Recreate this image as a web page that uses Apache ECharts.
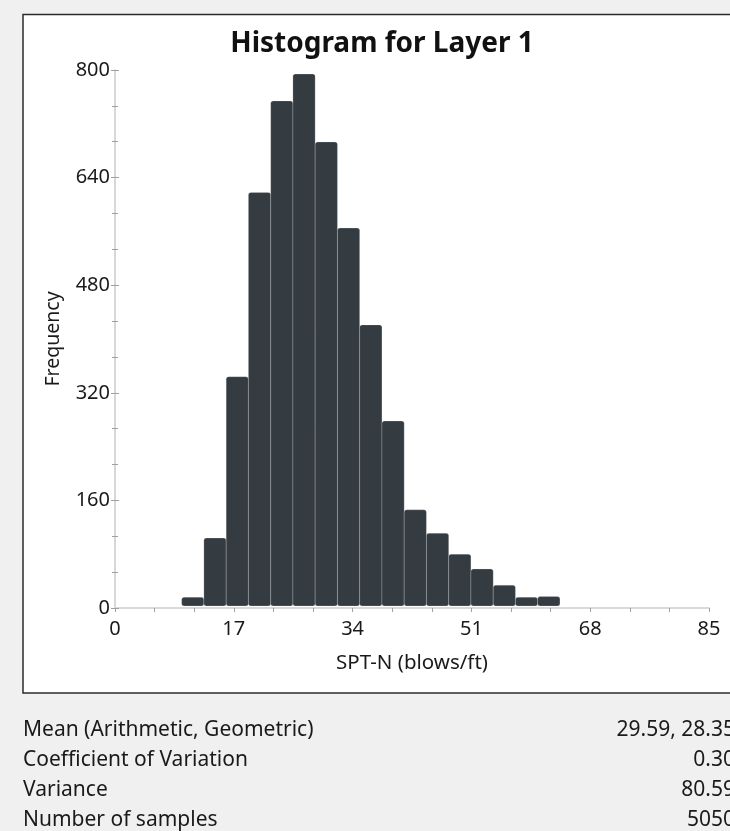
<!DOCTYPE html>
<html>
<head>
<meta charset="utf-8">
<script src="https://cdn.jsdelivr.net/npm/echarts@6/dist/echarts.min.js"></script>
<style>
  html, body { margin: 0; padding: 0; background: #f0f0f0; overflow: hidden; }
  #chart { width: 730px; height: 831px; }
</style>
</head>
<body>
<div id="chart"></div>
<script>
// Histogram bins: edges (blows/ft) and counts per bin
const binEdges = [9.54, 12.72, 15.91, 19.09, 22.28, 25.46, 28.64, 31.83, 35.01,
                  38.20, 41.38, 44.56, 47.75, 50.93, 54.12, 57.30, 60.48, 63.67];
const binCounts = [16, 104, 344, 618, 754, 794, 693, 565, 421,
                   278, 146, 111, 80, 58, 34, 16, 17];

// Axis ticks
const xTicks = [0, 17, 34, 51, 68, 85];
const yTicks = [0, 160, 320, 480, 640, 800];

// Summary statistics shown under the chart
const statLabels = ['Mean (Arithmetic, Geometric)', 'Coefficient of Variation', 'Variance', 'Number of samples'];
const statValues = ['29.59, 28.35', '0.30', '80.59', '5050'];

const FONT = 'Noto Sans';
const barData = binCounts.map((c, i) => [binEdges[i], binEdges[i + 1], c]);

const chart = echarts.init(document.getElementById('chart'), null, { renderer: 'canvas' });

const axisLineStyle = { color: '#d6d6d6', width: 1.5 };
const tickStyle = { color: '#a0a0a0', width: 1 };

const statGraphics = [];
statLabels.forEach((t, i) => {
  statGraphics.push({
    type: 'text', left: 23, top: 720 + i * 29.7,
    style: { text: t, font: '21px "' + FONT + '"', fill: '#1a1a1a' }
  });
  statGraphics.push({
    type: 'text', x: 735, y: 720 + i * 29.7,
    style: { text: statValues[i], font: '21px "' + FONT + '"', fill: '#1a1a1a', align: 'right' }
  });
});

chart.setOption({
  backgroundColor: '#f0f0f0',
  animation: false,
  title: {
    text: 'Histogram for Layer 1',
    left: 377, top: 25, textAlign: 'center',
    textStyle: { fontFamily: FONT, fontWeight: 'bold', fontSize: 28, color: '#111' }
  },
  graphic: [
    {
      type: 'rect', z: -10,
      shape: { x: 23, y: 14.5, width: 740, height: 678.5 },
      style: { fill: '#ffffff', stroke: '#2b2b2b', lineWidth: 1.5 }
    }
  ].concat(statGraphics),
  grid: { left: 115, right: 21, top: 70, bottom: 223 },
  xAxis: [
    {
      type: 'value', min: 0, max: 85, interval: 17, position: 'bottom',
      name: 'SPT-N (blows/ft)', nameLocation: 'middle', nameGap: 45,
      nameTextStyle: { fontFamily: FONT, fontSize: 20.5, color: '#1a1a1a' },
      axisLine: { show: true, lineStyle: axisLineStyle },
      axisTick: { show: true, length: 4, lineStyle: tickStyle },
      minorTick: { show: true, splitNumber: 3, length: 4, lineStyle: tickStyle },
      splitLine: { show: false },
      axisLabel: {
        fontFamily: FONT, fontSize: 20, color: '#1a1a1a', margin: 11,
        customValues: xTicks
      }
    },
    {
      type: 'value', min: 0, max: 85, interval: 17, position: 'top',
      axisLine: { show: true, lineStyle: axisLineStyle },
      axisTick: { show: true, inside: true, length: 4, lineStyle: tickStyle },
      minorTick: { show: true, splitNumber: 3, length: 3, lineStyle: tickStyle },
      splitLine: { show: false },
      axisLabel: { show: false }
    }
  ],
  yAxis: [
    {
      type: 'value', min: 0, max: 800, interval: 160, position: 'left',
      name: 'Frequency', nameLocation: 'middle', nameGap: 52,
      nameTextStyle: { fontFamily: FONT, fontSize: 19.5, color: '#1a1a1a' },
      axisLine: { show: true, lineStyle: axisLineStyle },
      axisTick: { show: true, inside: true, length: 4, lineStyle: tickStyle },
      minorTick: { show: true, splitNumber: 3, length: 3, lineStyle: tickStyle },
      splitLine: { show: false },
      axisLabel: {
        fontFamily: FONT, fontSize: 20, color: '#1a1a1a', margin: 5,
        customValues: yTicks
      }
    },
    {
      type: 'value', min: 0, max: 800, interval: 160, position: 'right',
      axisLine: { show: true, lineStyle: axisLineStyle },
      axisTick: { show: true, inside: true, length: 4, lineStyle: tickStyle },
      minorTick: { show: true, splitNumber: 3, length: 3, lineStyle: tickStyle },
      splitLine: { show: false },
      axisLabel: { show: false }
    }
  ],
  series: [{
    type: 'custom',
    xAxisIndex: 0, yAxisIndex: 0,
    data: barData,
    encode: { x: [0, 1], y: 2 },
    renderItem: function (params, api) {
      const p0 = api.coord([api.value(0), api.value(2)]);
      const p1 = api.coord([api.value(1), 0]);
      return {
        type: 'rect',
        shape: { x: p0[0], y: p0[1], width: p1[0] - p0[0], height: p1[1] - p0[1] - 2, r: 2.5 },
        style: { fill: '#343b41', stroke: 'rgba(236,238,239,0.45)', lineWidth: 0.5 }
      };
    }
  }]
});
</script>
</body>
</html>
